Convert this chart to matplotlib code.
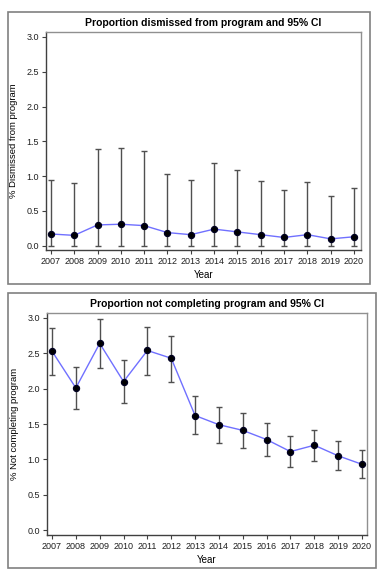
import matplotlib.pyplot as plt
from matplotlib.patches import Rectangle

plt.rcParams['font.family'] = ['Liberation Sans', 'DejaVu Sans']

years = [2007, 2008, 2009, 2010, 2011, 2012, 2013, 2014, 2015, 2016, 2017, 2018, 2019, 2020]

# dismissed from program (%)
dism = [0.17, 0.15, 0.30, 0.31, 0.29, 0.19, 0.16, 0.24, 0.20, 0.16, 0.12, 0.16, 0.10, 0.13]
dism_lo = [0.0] * 14
dism_hi = [0.95, 0.90, 1.39, 1.41, 1.36, 1.03, 0.94, 1.19, 1.09, 0.93, 0.80, 0.91, 0.71, 0.83]

# not completing program (%)
notc = [2.53, 2.01, 2.64, 2.10, 2.54, 2.43, 1.62, 1.49, 1.41, 1.28, 1.11, 1.20, 1.05, 0.93]
notc_lo = [2.19, 1.71, 2.29, 1.79, 2.20, 2.10, 1.36, 1.23, 1.16, 1.05, 0.89, 0.97, 0.85, 0.74]
notc_hi = [2.86, 2.31, 2.99, 2.40, 2.87, 2.75, 1.89, 1.74, 1.66, 1.51, 1.33, 1.42, 1.26, 1.13]

W, H = 390, 584
fig = plt.figure(figsize=(W / 100, H / 100), dpi=100)


def fx(px):
    return px / W


def fy(py):
    return 1 - py / H


def panel(box, axpos, xlim, ylim, vals, lo, hi, title, ylabel):
    x0, y0, x1, y1 = box
    fig.patches.append(Rectangle((fx(x0), fy(y1)), fx(x1 - x0), (y1 - y0) / H,
                                 transform=fig.transFigure, fill=False,
                                 edgecolor='#808080', linewidth=1.2))
    l, t, r, b = axpos
    ax = fig.add_axes([fx(l), fy(b), fx(r - l), (b - t) / H])
    err = [[v - a for v, a in zip(vals, lo)], [c - v for v, c in zip(vals, hi)]]
    ax.errorbar(years, vals, yerr=err, fmt='none', ecolor='#505050',
                elinewidth=1.0, capsize=2.5, capthick=1.0, zorder=2)
    ax.plot(years, vals, color='#7070ff', linewidth=1.0, zorder=3)
    ax.plot(years, vals, 'o', color='black', markeredgecolor='#000020',
            markersize=4.3, zorder=4)
    ax.set_xlim(*xlim)
    ax.set_ylim(*ylim)
    ax.set_xticks(years)
    ax.set_xticklabels([str(y) for y in years])
    ax.set_yticks([0.0, 0.5, 1.0, 1.5, 2.0, 2.5, 3.0])
    ax.set_yticklabels(['0.0', '0.5', '1.0', '1.5', '2.0', '2.5', '3.0'])
    ax.tick_params(labelsize=6.5, length=3, width=0.8, color='#404040',
                   labelcolor='#202020', pad=2)
    for s in ax.spines.values():
        s.set_color('#909090')
        s.set_linewidth(1.0)
    ax.spines['left'].set_color('#404040')
    ax.spines['bottom'].set_color('#404040')
    ax.set_xlabel('Year', fontsize=7, labelpad=3)
    ax.set_ylabel(ylabel, fontsize=6.8, labelpad=6)
    ax.set_title(title, fontsize=7.5, fontweight='bold', pad=4)
    return ax


panel((8, 12, 370, 284), (46, 32, 361, 250), (2006.79, 2020.3), (-0.06, 3.07),
      dism, dism_lo, dism_hi,
      'Proportion dismissed from program and 95% CI', '% Dismissed from program')
panel((8, 293, 376, 568), (47, 313, 367, 535), (2006.79, 2020.21), (-0.07, 3.07),
      notc, notc_lo, notc_hi,
      'Proportion not completing program and 95% CI', '% Not completing program')

fig.savefig('out.png', dpi=100)
